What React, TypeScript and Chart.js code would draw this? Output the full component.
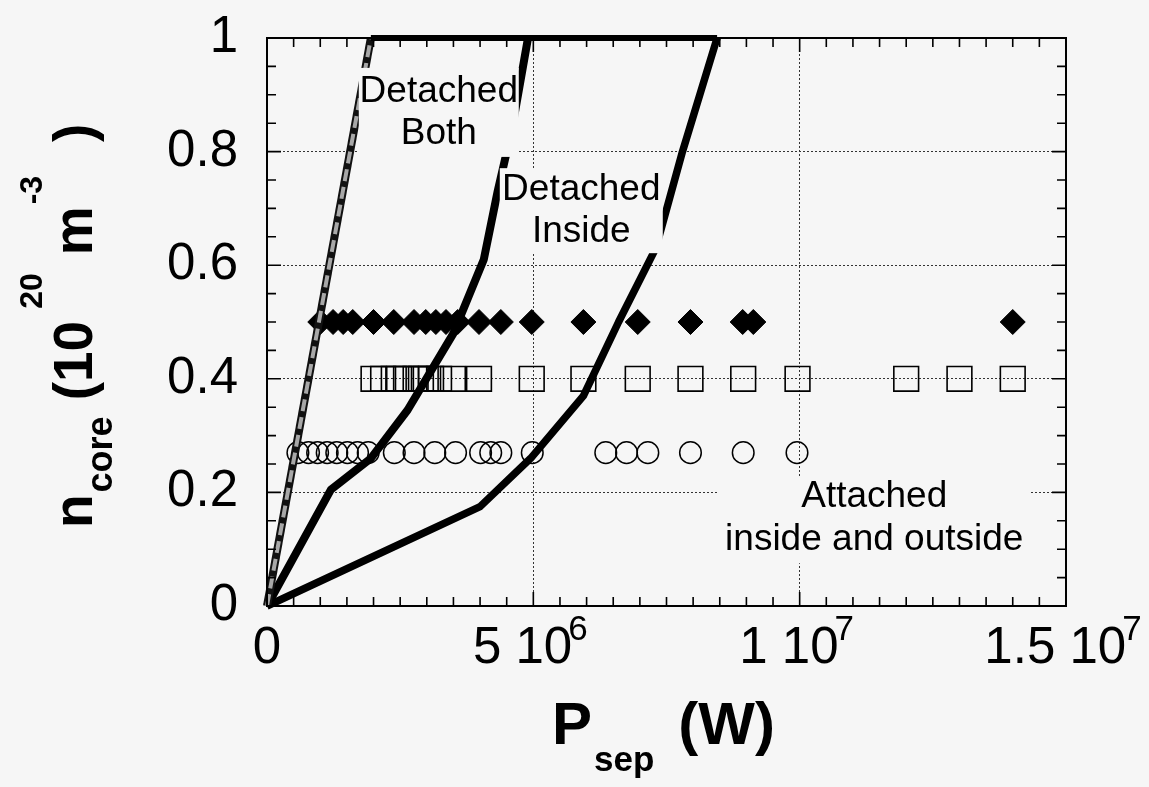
import React, { useEffect, useRef } from 'react';
import { Chart, registerables } from 'chart.js';

Chart.register(...registerables);

// ---------- data ----------
const X_MAX = 1.5e7;
const X_MAJOR = 5e6;
const X_MINOR = 5e5;
const Y_MAJOR = 0.2;
const Y_MINOR = 0.05;

const xTickValues = [0, 5e6, 1e7, 1.5e7];
const xTickMantissas = ['0', '5 10', '1 10', '1.5 10'];
const xTickExponents = ['', '6', '7', '7'];
const yTickValues = [0, 0.2, 0.4, 0.6, 0.8, 1];
const yTickLabels = ['0', '0.2', '0.4', '0.6', '0.8', '1'];

// boundary curves (P_sep in W, n_core in 1e20 m^-3)
const bothBoundaryX = [0, 1.95e6];
const bothBoundaryY = [0, 1.0];

const insideBoundaryX = [0, 1.2e6, 1.95e6, 2.64e6, 3.5e6, 4.07e6, 4.33e6, 4.6e6, 4.9e6];
const insideBoundaryY = [0, 0.205, 0.26, 0.345, 0.48, 0.61, 0.73, 0.84, 1.0];

const attachedBoundaryX = [0, 4.0e6, 4.95e6, 5.94e6, 6.6e6, 7.3e6, 7.8e6, 8.45e6];
const attachedBoundaryY = [0, 0.175, 0.26, 0.37, 0.5, 0.63, 0.8, 1.0];

const topBoundaryX = [1.95e6, 8.45e6];
const topBoundaryY = [1.0, 1.0];

// scan points
const diamondDensity = 0.5;
const diamondPsep = [1.0e6, 1.24e6, 1.43e6, 1.61e6, 2.0e6, 2.38e6, 2.76e6, 2.98e6, 3.17e6, 3.36e6,
  3.58e6, 3.98e6, 4.39e6, 4.97e6, 5.94e6, 6.96e6, 7.95e6, 8.93e6, 9.13e6, 14.0e6];

const squareDensity = 0.4;
const squarePsep = [2.0e6, 2.18e6, 2.38e6, 2.48e6, 2.61e6, 2.79e6, 2.89e6, 2.98e6, 3.08e6, 3.23e6,
  3.49e6, 3.98e6, 4.97e6, 5.94e6, 6.96e6, 7.95e6, 8.94e6, 9.96e6, 12.0e6, 13.0e6, 14.0e6];

const circleDensity = 0.27;
const circlePsep = [0.58e6, 0.78e6, 0.95e6, 1.13e6, 1.31e6, 1.51e6, 1.7e6, 1.9e6, 2.39e6, 2.76e6,
  3.15e6, 3.54e6, 4.01e6, 4.2e6, 4.39e6, 4.98e6, 6.36e6, 6.75e6, 7.15e6, 7.95e6, 8.94e6, 9.95e6];

// region labels (anchored in data coordinates)
const regionLabelTexts = [['Detached', 'Both'], ['Detached', 'Inside'], ['Attached', 'inside and outside']];
const regionLabelX = [3.225e6, 5.9e6, 11.4e6];
const regionLabelY = [0.869, 0.696, 0.151];

// ---------- styles ----------
const FONT = '"Liberation Sans", Arial, Helvetica, sans-serif';
const BG = '#f6f6f6';
const labelBoxes = [
  { w: 160, h: 89, lineOffsets: [-10.5, 31.5] },
  { w: 163, h: 85, lineOffsets: [-10.5, 31.5] },
  { w: 312, h: 86, lineOffsets: [-13, 30] },
];

type Run = { text: string; size: number; shift: number; gap: number };
const xTitleRuns: Run[] = [
  { text: 'P', size: 60, shift: 0, gap: 0 },
  { text: 'sep', size: 35, shift: 27, gap: 2 },
  { text: '(W)', size: 60, shift: 0, gap: 24 },
];
const yTitleRuns: Run[] = [
  { text: 'n', size: 55, shift: 0, gap: 0 },
  { text: 'core', size: 36, shift: 20, gap: 2 },
  { text: '(10', size: 55, shift: 0, gap: 16 },
  { text: '20', size: 32, shift: -50, gap: 12 },
  { text: 'm', size: 55, shift: 0, gap: 18 },
  { text: '-3', size: 32, shift: -50, gap: 2 },
  { text: ')', size: 55, shift: 0, gap: 34 },
];

function drawRuns(ctx: CanvasRenderingContext2D, runs: Run[]) {
  let x = 0;
  for (const r of runs) {
    x += r.gap;
    ctx.font = `bold ${r.size}px ${FONT}`;
    ctx.fillText(r.text, x, r.shift);
    x += ctx.measureText(r.text).width;
  }
}

const decorPlugin = {
  id: 'decor',
  beforeDraw(chart: any) {
    const ctx = chart.ctx;
    ctx.save();
    ctx.fillStyle = BG;
    ctx.fillRect(0, 0, chart.width, chart.height);
    ctx.restore();
  },
  afterDatasetsDraw(chart: any) {
    const ctx: CanvasRenderingContext2D = chart.ctx;
    const a = chart.chartArea;
    const xs = chart.scales.x;
    const ys = chart.scales.y;
    ctx.save();

    // region labels with opaque boxes
    regionLabelTexts.forEach((lines, i) => {
      const cx = xs.getPixelForValue(regionLabelX[i]);
      const cy = ys.getPixelForValue(regionLabelY[i]);
      const b = labelBoxes[i];
      ctx.fillStyle = BG;
      ctx.fillRect(cx - b.w / 2, cy - b.h / 2, b.w, b.h);
      ctx.fillStyle = '#000';
      ctx.font = `37px ${FONT}`;
      ctx.textAlign = 'center';
      ctx.textBaseline = 'alphabetic';
      lines.forEach((t, j) => ctx.fillText(t, cx, cy + b.lineOffsets[j]));
    });

    // frame
    ctx.strokeStyle = '#000';
    ctx.lineWidth = 2;
    ctx.setLineDash([]);
    ctx.strokeRect(a.left, a.top, a.right - a.left, a.bottom - a.top);

    // inward ticks
    ctx.lineWidth = 1.6;
    ctx.beginPath();
    const nx = Math.round(X_MAX / X_MINOR);
    for (let i = 0; i <= nx; i++) {
      const px = xs.getPixelForValue(i * X_MINOR);
      const len = i % Math.round(X_MAJOR / X_MINOR) === 0 ? 14 : 9;
      ctx.moveTo(px, a.bottom); ctx.lineTo(px, a.bottom - len);
      ctx.moveTo(px, a.top); ctx.lineTo(px, a.top + len);
    }
    const ny = Math.round(1 / Y_MINOR);
    for (let i = 0; i <= ny; i++) {
      const py = ys.getPixelForValue(i * Y_MINOR);
      const len = i % Math.round(Y_MAJOR / Y_MINOR) === 0 ? 14 : 9;
      ctx.moveTo(a.left, py); ctx.lineTo(a.left + len, py);
      ctx.moveTo(a.right, py); ctx.lineTo(a.right - len, py);
    }
    ctx.stroke();

    // x tick labels with exponents
    ctx.fillStyle = '#000';
    ctx.textAlign = 'left';
    ctx.textBaseline = 'alphabetic';
    const base = a.bottom + 57;
    const tuck = 4;
    xTickValues.forEach((v, i) => {
      const m = xTickMantissas[i];
      const e = xTickExponents[i];
      ctx.font = `51px ${FONT}`;
      const wm = ctx.measureText(m).width;
      ctx.font = `35px ${FONT}`;
      const we = e ? ctx.measureText(e).width - tuck : 0;
      const start = xs.getPixelForValue(v) - (wm + we) / 2 - (e ? 3 : 0);
      ctx.font = `51px ${FONT}`;
      ctx.fillText(m, start, base);
      if (e) {
        ctx.font = `35px ${FONT}`;
        ctx.fillText(e, start + wm - tuck, base - 23);
      }
    });

    // x title
    ctx.save();
    ctx.translate(a.left + 285, a.bottom + 138);
    drawRuns(ctx, xTitleRuns);
    ctx.restore();

    // y title
    ctx.save();
    ctx.translate(a.left - 175, a.bottom - 78);
    ctx.rotate(-Math.PI / 2);
    drawRuns(ctx, yTitleRuns);
    ctx.restore();

    ctx.restore();
  },
};

export default function App() {
  const ref = useRef<HTMLCanvasElement>(null);
  useEffect(() => {
    document.body.style.background = BG;
    const canvas = ref.current!;
    const pts = (xs: number[], ys: number[]) => xs.map((x, i) => ({ x, y: ys[i] }));
    const row = (xs: number[], y: number) => xs.map((x) => ({ x, y }));
    const curve = (data: any, color: string, width: number, order: number, dash: number[] = []) => ({
      type: 'line' as const,
      data,
      showLine: true,
      borderColor: color,
      borderWidth: width,
      borderDash: dash,
      borderJoinStyle: 'round' as const,
      borderCapStyle: 'butt' as const,
      pointRadius: 0,
      fill: false,
      tension: 0,
      clip: false as any,
      order,
    });
    const gridOpts = { color: '#333', lineWidth: 1, drawTicks: false };
    const chart = new Chart(canvas, {
      type: 'scatter',
      data: {
        datasets: [
          curve(pts(topBoundaryX, topBoundaryY), '#000', 6, 0),
          curve(pts(bothBoundaryX, bothBoundaryY), '#a8a8a8', 4, 1, [12, 6]),
          curve(pts(bothBoundaryX, bothBoundaryY), '#111', 8, 2),
          curve(pts(insideBoundaryX, insideBoundaryY), '#000', 8, 2),
          curve(pts(attachedBoundaryX, attachedBoundaryY), '#000', 7.5, 2),
          {
            data: row(diamondPsep, diamondDensity),
            pointStyle: 'rectRot',
            pointRadius: 12.5,
            backgroundColor: '#000',
            borderColor: '#000',
            borderWidth: 1,
            order: 5,
          } as any,
          {
            data: row(squarePsep, squareDensity),
            pointStyle: 'rect',
            pointRadius: 17.5,
            backgroundColor: 'rgba(0,0,0,0)',
            borderColor: '#000',
            borderWidth: 1.6,
            order: 6,
          } as any,
          {
            data: row(circlePsep, circleDensity),
            pointStyle: 'circle',
            pointRadius: 10.8,
            backgroundColor: 'rgba(0,0,0,0)',
            borderColor: '#000',
            borderWidth: 1.5,
            order: 7,
          } as any,
        ],
      },
      options: {
        animation: false,
        responsive: false,
        events: [],
        layout: { padding: { left: 0, right: 83, top: 30, bottom: 0 } },
        plugins: { legend: { display: false }, tooltip: { enabled: false } },
        scales: {
          x: {
            type: 'linear',
            min: 0,
            max: X_MAX,
            afterBuildTicks: (s: any) => { s.ticks = xTickValues.map((v) => ({ value: v })); },
            ticks: { display: false },
            grid: gridOpts,
            border: { display: false, dash: [2, 2] },
            afterFit: (s: any) => { s.height = 173; s.paddingLeft = 0; s.paddingRight = 0; },
          },
          y: {
            type: 'linear',
            min: 0,
            max: 1,
            afterBuildTicks: (s: any) => { s.ticks = yTickValues.map((v) => ({ value: v })); },
            ticks: {
              font: { family: FONT, size: 51 },
              color: '#000',
              padding: 29,
              callback: (_v: any, i: number) => yTickLabels[i],
            },
            grid: gridOpts,
            border: { display: false, dash: [2, 2] },
            afterFit: (s: any) => { s.width = 259; s.paddingTop = 0; s.paddingBottom = 0; },
          },
        },
      } as any,
      plugins: [decorPlugin],
    });
    return () => chart.destroy();
  }, []);
  return <canvas ref={ref} width={1141} height={771} style={{ display: 'block' }} />;
}
